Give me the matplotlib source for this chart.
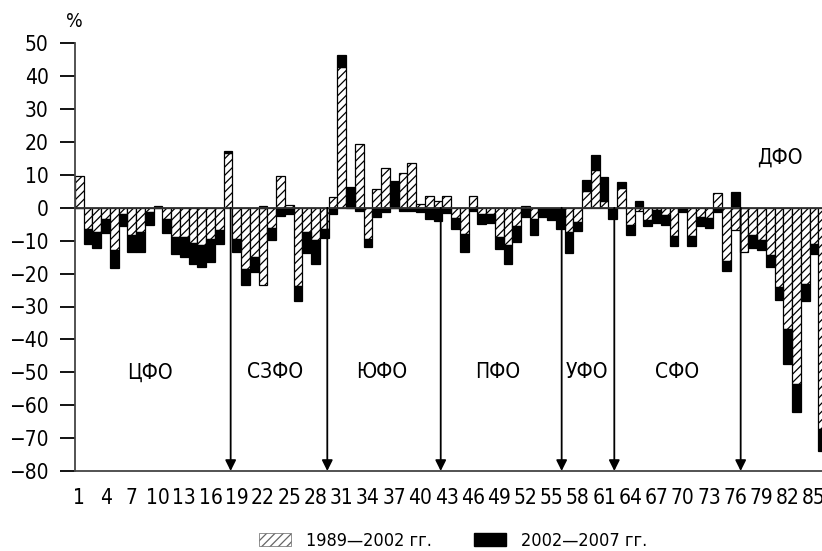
import matplotlib
matplotlib.use("Agg")
import matplotlib.pyplot as plt
from matplotlib.patches import Patch
import numpy as np

plt.rcParams['font.family'] = ['DejaVu Sans']
plt.rcParams['font.stretch'] = 'condensed'
plt.rcParams['hatch.linewidth'] = 0.9

regions = list(range(1, 87))
# change 1989-2002 (hatched)
h_8902 = [9.7, -6.3, -7.3, -3.4, -12.7, -1.9, -8.3, -7.3, -1.4, 0.0,
          -3.5, -8.8, -8.8, -10.7, -11.2, -9.6, -6.8, 16.6, -9.5, -18.7,
          -15.0, -23.5, -6.2, 9.6, 1.0, -23.8, -7.5, -9.9, -6.5, 3.4,
          42.8, 0.0, 19.4, -9.6, 5.6, 12.1, 0.0, 10.6, 13.5, 1.1,
          3.7, 2.1, 3.7, -3.0, -8.0, 3.7, -1.9, -1.9, -9.0, -11.3,
          -5.5, 0.4, -3.5, 0.0, -0.5, -0.5, -7.4, -4.3, 5.2, 11.5,
          2.1, 0.0, 6.0, -5.3, -1.0, -3.6, -0.7, -2.2, -8.7, 0.0,
          -8.5, -2.8, -3.0, 4.4, -16.1, -6.6, -13.4, -8.3, -9.9, -14.2,
          -24.1, -36.8, -53.5, -23.1, -10.9, -67.3]
# change 2002-2007 (black)
b_0207 = [0.0, -4.7, -5.0, -4.2, -5.6, -3.7, -5.1, -6.1, -3.7, 0.6,
          -4.1, -5.1, -6.3, -6.3, -6.8, -6.9, -4.2, 0.7, -3.8, -4.8,
          -4.6, 0.6, -3.6, -2.4, -2.0, -4.6, -6.1, -7.3, -2.8, -1.8,
          3.7, 6.2, -0.9, -2.3, -2.8, -1.4, 8.2, -0.9, -0.9, -1.2,
          -3.5, -4.0, -1.7, -3.4, -5.3, -0.9, -2.9, -2.6, -3.6, -5.9,
          -4.8, -2.9, -4.8, -2.9, -3.3, -5.8, -6.2, -2.7, 3.2, 4.6,
          7.3, -3.3, 1.7, -2.9, 2.0, -2.0, -4.0, -3.1, -3.0, -1.2,
          -3.2, -2.8, -3.0, -1.2, -3.2, 4.9, 0.0, -3.8, -2.8, -3.8,
          -3.8, -10.7, -8.7, -5.1, -3.0, -6.6]

districts = ['ЦФО', 'СЗФО', 'ЮФО', 'ПФО', 'УФО', 'СФО', 'ДФО']
district_label_x = [9.1, 23.4, 35.6, 48.8, 59.0, 69.3, 81.1]
district_label_y = [-50, -50, -50, -50, -50, -50, 15.4]
boundaries = [18.3, 29.35, 42.32, 56.15, 62.17, 76.62]

xticks = list(range(1, 86, 3))
yticks = list(range(-80, 51, 10))
legend_labels = ['1989\u20142002 гг.', '2002\u20142007 гг.']

fig = plt.figure(figsize=(8.22, 5.51), dpi=100)
ax = fig.add_axes([75/822, 80/551, 1 - 75/822, (471 - 43.3)/551])

x = np.array(regions, dtype=float)
h = np.array(h_8902)
b = np.array(b_0207)
same = (np.sign(b) == np.sign(h)) | (h == 0)
b_bottom = np.where(same, h, 0.0)

ax.bar(x, h, width=1.0, bottom=0, facecolor='white', edgecolor='black',
       hatch='////', linewidth=0.9, zorder=2)
ax.bar(x, b, width=1.0, bottom=b_bottom, facecolor='black', edgecolor='black',
       linewidth=0.9, zorder=2)

ax.axhline(0, color='#333333', lw=1.3, zorder=3)

for bx in boundaries:
    ax.annotate('', xy=(bx, -80), xytext=(bx, 0),
                arrowprops=dict(arrowstyle='-|>', color='black', lw=1.3,
                                mutation_scale=16, shrinkA=0, shrinkB=0),
                zorder=4)

for name, lx, ly in zip(districts, district_label_x, district_label_y):
    ax.text(lx, ly, name, ha='center', va='center', fontsize=15)

ax.set_xlim(0.5, 85.92)
ax.set_ylim(-80, 50)
ax.set_xticks(xticks)
ax.set_xticklabels([str(t) for t in xticks], fontsize=15)
ax.set_yticks(yticks)
ax.set_yticklabels([str(t).replace('-', '\u2212') for t in yticks], fontsize=15)
ax.tick_params(axis='x', length=0, pad=12)
ax.tick_params(axis='y', length=11, width=1.3, pad=8, color='black')

for s in ['top', 'right']:
    ax.spines[s].set_visible(False)
for s in ['left', 'bottom']:
    ax.spines[s].set_color('#444444')
    ax.spines[s].set_linewidth(1.3)

ax.text(0.45, 56.5, '%', transform=ax.transData, ha='center', va='center',
        fontsize=14, clip_on=False)

handles = [Patch(facecolor='white', edgecolor='#666666', hatch='////', linewidth=0.5),
           Patch(facecolor='black', edgecolor='black')]
fig.legend(handles, legend_labels, loc='center', bbox_to_anchor=(453/822, 1 - 541/551),
           ncol=2, frameon=False, fontsize=13, handlelength=1.78, handleheight=0.75,
           columnspacing=2.3, handletextpad=0.85, borderpad=0.2)

fig.savefig('out.png', dpi=100)
